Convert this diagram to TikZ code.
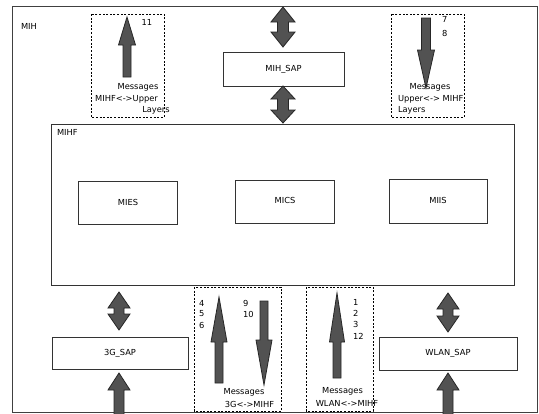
\documentclass[tikz,border=0pt]{standalone}
\usepackage{fontspec}
\setmainfont{DejaVu Sans}
\newcommand{\fatdbl}[6]{% x, ytop, ybot, headlen, halfhead, halfshaft
  \filldraw[fatarrow] (#1,#2) -- (#1+#5,#2+#4) -- (#1+#6,#2+#4) -- (#1+#6,#3-#4) -- (#1+#5,#3-#4) -- (#1,#3)
    -- (#1-#5,#3-#4) -- (#1-#6,#3-#4) -- (#1-#6,#2+#4) -- (#1-#5,#2+#4) -- cycle;}
\newcommand{\fatup}[6]{% x, ytip, ybot, headlen, halfhead, halfshaft
  \filldraw[fatarrow] (#1,#2) -- (#1+#5,#2+#4) -- (#1+#6,#2+#4) -- (#1+#6,#3) -- (#1-#6,#3) -- (#1-#6,#2+#4) -- (#1-#5,#2+#4) -- cycle;}
\newcommand{\fatdown}[6]{% x, ytip, ytop, headlen, halfhead, halfshaft
  \filldraw[fatarrow] (#1,#2) -- (#1+#5,#2-#4) -- (#1+#6,#2-#4) -- (#1+#6,#3) -- (#1-#6,#3) -- (#1-#6,#2-#4) -- (#1-#5,#2-#4) -- cycle;}
\begin{document}
\begin{tikzpicture}[x=1pt,y=-1pt,
  every node/.style={font=\fontsize{8.3}{10}\selectfont, inner sep=0pt, outer sep=0pt},
  box/.style={draw=black!80, line width=1pt, fill=white},
  dashbox/.style={draw=black, line width=1pt, dash pattern=on 2pt off 1.6pt},
  fatarrow/.style={fill=black!68, draw=black!85, line width=0.8pt, line join=miter},
  lbl/.style={anchor=west}]
\useasboundingbox (0,0) rectangle (539,413);
\clip (0,0) rectangle (539,413);
\fill[white] (0,0) rectangle (539,413);
% outer MIH
\node[draw=black!75, line width=1pt, minimum width=525pt, minimum height=406pt] (mih) at (274.5,209) {};
\node (mihlbl) at (29,26) {MIH};
% MIH_SAP
\node[box, minimum width=121pt, minimum height=34pt] (mihsap) at (283.5,69) {MIH\_SAP};
% MIHF
\node[box, minimum width=463pt, minimum height=161pt] (mihf) at (282.5,204.5) {};
\node[lbl] (mihflbl) at (57,132) {MIHF};
\node[box, minimum width=99pt, minimum height=43pt] (mies) at (127.5,202.5) {};
\node (mieslbl) at (128,202) {MIES};
\node[box, minimum width=99pt, minimum height=43pt] (mics) at (284.5,201.5) {};
\node (micslbl) at (285,200) {MICS};
\node[box, minimum width=98pt, minimum height=44pt] (miis) at (438,201) {};
\node (miislbl) at (438,200) {MIIS};
% SAPs
\node[box, minimum width=136pt, minimum height=32pt] (gsap) at (120,353) {3G\_SAP};
\node[box, minimum width=138pt, minimum height=33pt] (wsap) at (448,353.5) {WLAN\_SAP};
% double arrows
\fatdbl{283}{7}{47}{15}{12}{5.5}
\fatdbl{283}{86}{123}{13}{12}{5.5}
\fatdbl{119}{292}{330}{16}{11}{5}
\fatdbl{119}{373}{440}{17}{11}{5}
\fatdbl{448}{293}{332}{16}{11}{5}
\fatdbl{448}{373}{440}{17}{11}{5}
% top-left dashed box
\draw[dashbox] (91,14) rectangle (164,117);
\fatup{127}{17}{77}{28}{8.5}{4}
\node (n11) at (147,22) {11};
\node (tlm1) at (138,87) {Messages};
\node (tlm2) at (126.5,99) {MIHF<->Upper};
\node (tlm3) at (156,110) {Layers};
% top-right dashed box
\draw[dashbox] (391,14) rectangle (464,117);
\fatdown{426}{88}{18}{38}{8.5}{4.5}
\node[lbl] (n7) at (442,19) {7};
\node[lbl] (n8) at (442,33) {8};
\node (trm1) at (430,87) {Messages};
\node[lbl] (trm2) at (398,99) {Upper<-> MIHF};
\node[lbl] (trm3) at (398,110) {Layers};
% bottom-left dashed box
\draw[dashbox] (194,287) rectangle (281,411);
\fatup{219}{297}{383}{45}{8}{4}
\fatdown{264}{385}{301}{45}{8}{4}
\node[lbl] (n4) at (199,303) {4};
\node[lbl] (n5) at (199,314) {5};
\node[lbl] (n6) at (199,325) {6};
\node[lbl] (n9) at (243,303) {9};
\node[lbl] (n10) at (243,314) {10};
\node (blm1) at (244,392) {Messages};
\node (blm2) at (249.5,404) {3G<->MIHF};
% bottom-right dashed box
\draw[dashbox] (306,287) rectangle (373,411);
\fatup{337}{293}{378}{49}{7.5}{4}
\node[lbl] (n1) at (353,302) {1};
\node[lbl] (n2) at (353,313) {2};
\node[lbl] (n3) at (353,324) {3};
\node[lbl] (n12) at (353,336) {12};
\node (brm1) at (342.5,391) {Messages};
\node (brm2) at (347,403) {WLAN<->MIHF};
\end{tikzpicture}
\end{document}
